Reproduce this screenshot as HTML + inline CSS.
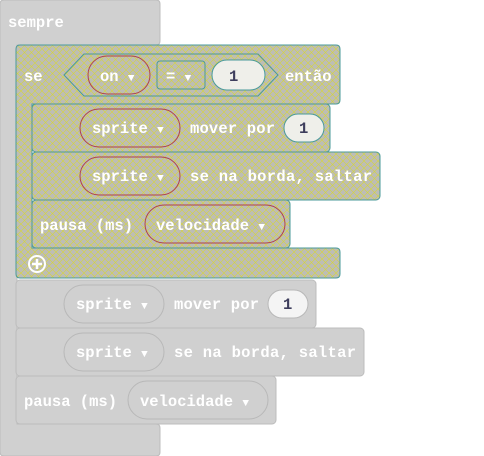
<!DOCTYPE html>
<html><head><meta charset="utf-8"><style>
html,body{margin:0;padding:0;background:#fff;}
svg{display:block}
text{font-family:"Liberation Mono","DejaVu Sans Mono",monospace;font-weight:bold;font-size:15.5px;fill:#fff;}
.d{fill:#3d3d5c}
.a{font-size:11px}
</style></head><body>
<svg width="484" height="456" viewBox="0 0 484 456" xmlns="http://www.w3.org/2000/svg">
<defs>
<pattern id="h" width="7" height="7" patternUnits="userSpaceOnUse">
<rect width="7" height="7" fill="#bdbdb6"/>
<path d="M0,0 L7,7 M7,0 L0,7" stroke="#d6d638" stroke-width="0.6"/>
</pattern>
</defs>
<path d="M4,0 H156 Q160,0 160,4 V41 Q160,45 156,45 H17 V424 H156 Q160,424 160,428 V452 Q160,456 156,456 H4 Q0,456 0,452 V4 Q0,0 4,0 Z" fill="#d0d0d0" stroke="#bcbcbc"/>
<text x="8" y="27">sempre</text>
<path d="M20,45 H336 Q340,45 340,49 V100 Q340,104 336,104 H32 V248 H336 Q340,248 340,252 V274 Q340,278 336,278 H20 Q16,278 16,274 V49 Q16,45 20,45 Z" fill="url(#h)" stroke="#4a9a9a"/>
<path d="M64,75 L84,54 H258 L278,75 L258,96 H84 Z" fill="url(#h)" stroke="#4a9a9a"/>
<text x="24" y="81">se</text>
<rect x="88" y="56" width="62" height="38" rx="19" fill="url(#h)" stroke="#b04050"/>
<text x="100" y="81">on <tspan class="a">▼</tspan></text>
<rect x="157" y="61" width="48" height="28" rx="3" fill="url(#h)" stroke="#4a9a9a"/>
<text x="166" y="81">= <tspan class="a">▼</tspan></text>
<rect x="212" y="60" width="53" height="30" rx="15" fill="#efefea" stroke="#4a9a9a"/>
<text class="d" x="229" y="81">1</text>
<text x="285" y="81">então</text>
<rect x="32" y="104" width="298" height="48" rx="4" fill="url(#h)" stroke="#4a9a9a"/>
<rect x="80" y="109" width="100" height="38" rx="19" fill="url(#h)" stroke="#b04050"/>
<text x="92" y="133">sprite <tspan class="a">▼</tspan></text>
<text x="190" y="133" textLength="85">mover por</text>
<rect x="284" y="114" width="40" height="28" rx="14" fill="#efefea" stroke="#4a9a9a"/>
<text class="d" x="299" y="133">1</text>
<rect x="32" y="152" width="348" height="48" rx="4" fill="url(#h)" stroke="#4a9a9a"/>
<rect x="80" y="157" width="100" height="38" rx="19" fill="url(#h)" stroke="#b04050"/>
<text x="92" y="181">sprite <tspan class="a">▼</tspan></text>
<text x="190" y="181" textLength="182">se na borda, saltar</text>
<rect x="32" y="200" width="258" height="48" rx="4" fill="url(#h)" stroke="#4a9a9a"/>
<text x="40" y="230">pausa (ms)</text>
<rect x="145" y="205" width="140" height="38" rx="19" fill="url(#h)" stroke="#b04050"/>
<text x="156" y="230">velocidade <tspan class="a">▼</tspan></text>
<circle cx="37" cy="264" r="8" fill="none" stroke="#fff" stroke-width="2"/>
<path d="M32,264 H42 M37,259 V269" stroke="#fff" stroke-width="2.5"/>
<rect x="16" y="280" width="300" height="48" rx="4" fill="#d0d0d0" stroke="#bcbcbc"/>
<rect x="64" y="285" width="100" height="38" rx="19" fill="#d0d0d0" stroke="#b8b8b8"/>
<text x="76" y="309">sprite <tspan class="a">▼</tspan></text>
<text x="174" y="309" textLength="85">mover por</text>
<rect x="268" y="290" width="40" height="28" rx="14" fill="#f4f4f4" stroke="#b8b8b8"/>
<text class="d" x="283" y="309">1</text>
<rect x="16" y="328" width="348" height="48" rx="4" fill="#d0d0d0" stroke="#bcbcbc"/>
<rect x="64" y="333" width="100" height="38" rx="19" fill="#d0d0d0" stroke="#b8b8b8"/>
<text x="76" y="357">sprite <tspan class="a">▼</tspan></text>
<text x="174" y="357" textLength="182">se na borda, saltar</text>
<rect x="16" y="376" width="260" height="48" rx="4" fill="#d0d0d0" stroke="#bcbcbc"/>
<text x="24" y="406">pausa (ms)</text>
<rect x="128" y="381" width="140" height="38" rx="19" fill="#d0d0d0" stroke="#b8b8b8"/>
<text x="140" y="406">velocidade <tspan class="a">▼</tspan></text>
</svg>
</body></html>
